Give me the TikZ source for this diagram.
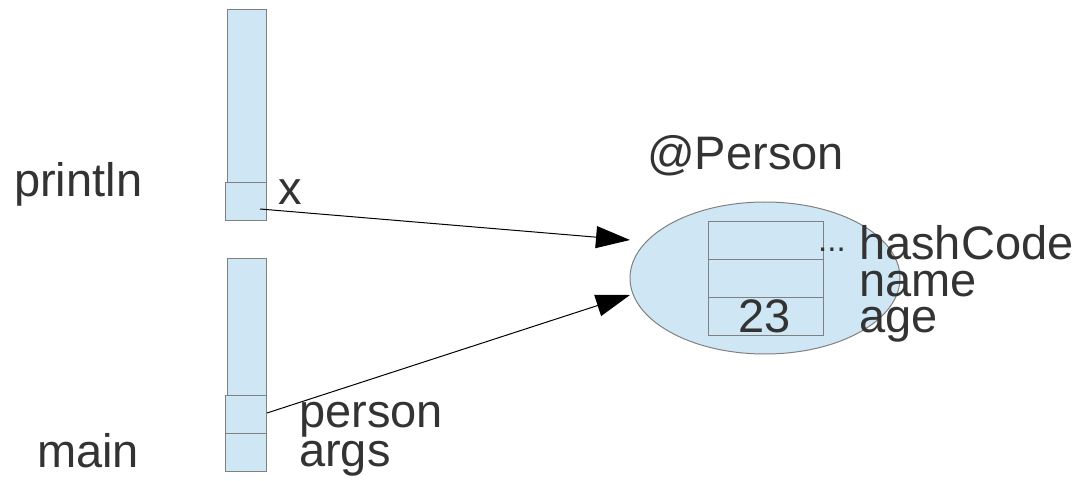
\documentclass[tikz,border=0pt]{standalone}
\usepackage{fontspec}
\setmainfont{Liberation Sans}
\usetikzlibrary{arrows.meta,calc,shapes.geometric}
\definecolor{cellfill}{HTML}{CFE7F5}
\definecolor{cellline}{HTML}{808080}
\definecolor{ink}{HTML}{333333}
\tikzset{
  cell/.style={draw=cellline, fill=cellfill, line width=1pt, inner sep=0pt, outer sep=0pt},
  lbl/.style={text=ink, inner sep=0pt, anchor=base west, font=\fontsize{47}{47}\selectfont},
  ref/.style={line width=1pt, -{Triangle[length=34pt, width=22pt]}}
}
\begin{document}
\begin{tikzpicture}[x=1pt, y=-1pt]
\useasboundingbox (0,0) rectangle (1080,481);

% frame of println
\node[cell, minimum width=39pt, minimum height=173pt] (pframe) at (246.5,96.5) {};
\node[cell, minimum width=41pt, minimum height=38pt] (xslot) at (245.5,202) {};

% frame of main
\node[cell, minimum width=39pt, minimum height=136pt] (mframe) at (246.5,327) {};
\node[cell, minimum width=41pt, minimum height=38pt] (pslot) at (245.5,414) {};
\node[cell, minimum width=41pt, minimum height=38pt] (aslot) at (245.5,452) {};

% frame labels
\node[lbl] (lprintln) at (14,197) {println};
\node[lbl] (lmain) at (37,467) {main};
\node[lbl] (lx) at (278,205) {x};
\node[lbl] (lperson) at (299,427) {person};
\node[lbl] (largs) at (299,466) {args};

% the Person object
\node[lbl] (ltitle) at (647,170) {@Person};
\node[draw=cellline, fill=cellfill, line width=1pt, ellipse, inner sep=0pt,
      minimum width=270pt, minimum height=152pt] (obj) at (765,278) {};
\node[cell, minimum width=115pt, minimum height=38pt] (fhash) at (765.5,241) {};
\node[cell, minimum width=115pt, minimum height=38pt] (fname) at (765.5,279) {};
\node[cell, minimum width=115pt, minimum height=38pt] (fage) at (765.5,317) {};
\node[text=ink, inner sep=0pt, anchor=base, font=\fontsize{47}{47}\selectfont] (vage) at (765,333) {23};
\node[text=ink, inner sep=0pt, anchor=base west, font=\fontsize{33}{33}\selectfont] (dots) at (818,252) {...};
\node[lbl] (lhash) at (859,260) {hashCode};
\node[lbl] (lname) at (859,297) {name};
\node[lbl] (lage) at (859,333) {age};

% references
\coordinate (t1) at (630,240);
\coordinate (t2) at (630,295);
\draw[ref] ($(xslot.center)+(14.5,7)$) -- (t1);
\draw[ref] ($(pslot.center)+(21.5,-1)$) -- (t2);
\end{tikzpicture}
\end{document}
